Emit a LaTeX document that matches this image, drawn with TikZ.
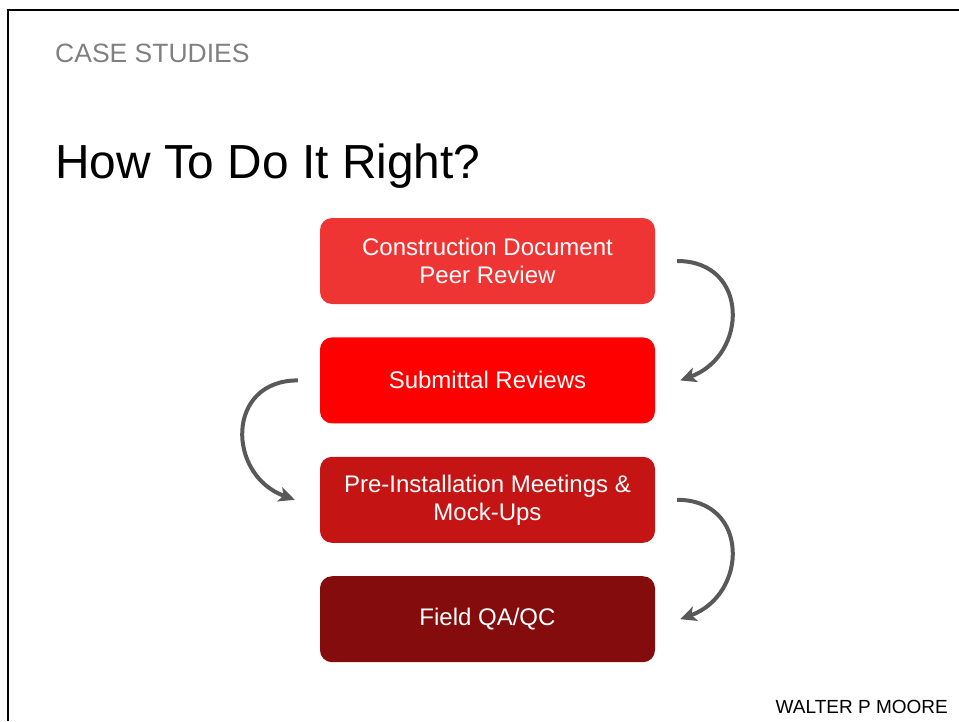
\documentclass[tikz,border=0pt]{standalone}
\usepackage{fontspec}
\setmainfont{Liberation Sans}
\usetikzlibrary{positioning,calc,arrows.meta}

\definecolor{stepone}{HTML}{EF3434}
\definecolor{steptwo}{HTML}{FF0000}
\definecolor{stepthree}{HTML}{C41414}
\definecolor{stepfour}{HTML}{850C0C}
\definecolor{flowgray}{HTML}{595959}

\begin{document}
\begin{tikzpicture}[x=1pt, y=-1pt,
    stepbox/.style={rounded corners=12pt, minimum width=335pt, minimum height=86pt,
        text=white, align=center, font=\fontsize{24}{28}\selectfont, inner sep=0pt},
    flow/.style={flowgray, line width=4pt, -{Stealth[length=16pt,width=15pt,inset=4pt]}}]
    \useasboundingbox (0,0) rectangle (959,721);

    % Frame
    \draw[line width=2.5pt] (7,10) -- (959,10);
    \draw[line width=2.5pt] (8,9) -- (8,721);

    % Headings
    \node[anchor=base west, inner sep=0pt, text=gray, font=\fontsize{26.5}{30}\selectfont]
        (section) at (55,62) {CASE STUDIES};
    \node[anchor=base west, inner sep=0pt, font=\fontsize{47.8}{52}\selectfont]
        (title) at (55,178) {How To Do It Right?};

    % Steps
    \node[stepbox, fill=stepone] (review) at (487.5,261) {Construction Document\\Peer Review};
    \node[stepbox, fill=steptwo, below=33pt of review] (submittal) {Submittal Reviews};
    \node[stepbox, fill=stepthree, below=33pt of submittal] (meetings) {Pre-Installation Meetings \&\\Mock-Ups};
    \node[stepbox, fill=stepfour, below=33pt of meetings] (field) {Field QA/QC};

    % Arrows
    \coordinate (a1) at ([xshift=22pt]review.east);
    \coordinate (a2) at ([xshift=25pt]submittal.east);
    \coordinate (b1) at ([xshift=-22pt]submittal.west);
    \coordinate (b2) at ([xshift=-25pt]meetings.west);
    \coordinate (c1) at ([xshift=22pt]meetings.east);
    \coordinate (c2) at ([xshift=25pt]field.east);
    \draw[flow] (a1) to[out=0, in=20, looseness=1.55] (a2);
    \draw[flow] (b1) to[out=180, in=160, looseness=1.55] (b2);
    \draw[flow] (c1) to[out=0, in=20, looseness=1.55] (c2);

    % Logo
    \node[anchor=base east, inner sep=0pt, font=\fontsize{19}{22}\selectfont]
        (logo) at (948,713) {WALTER P MOORE};
\end{tikzpicture}
\end{document}
